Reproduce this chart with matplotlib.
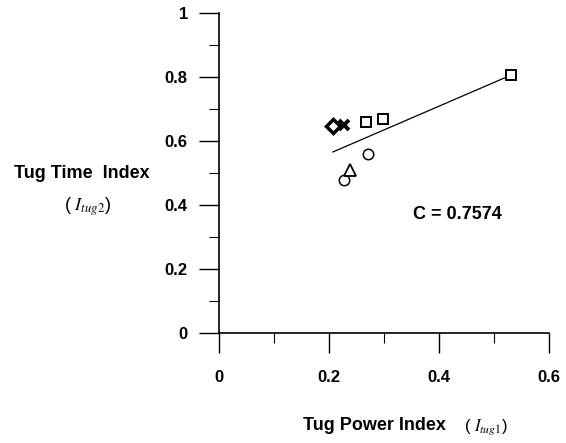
import numpy as np
import matplotlib
matplotlib.use("Agg")
import matplotlib.pyplot as plt
from matplotlib.ticker import MultipleLocator, FuncFormatter

plt.rcParams["font.family"] = ["Liberation Sans", "DejaVu Sans"]
plt.rcParams["mathtext.fontset"] = "stix"

# Pontos (indice de potencia x indice de tempo)
sq_x = [0.268, 0.299, 0.530]
sq_y = [0.660, 0.668, 0.806]
circ_x = [0.270, 0.227]
circ_y = [0.559, 0.478]
tri_x = [0.238]
tri_y = [0.509]
dia_x = [0.207]
dia_y = [0.647]
cross_x = [0.227]
cross_y = [0.650]
coef_text = "C = 0.7574"

todos_x = np.array(sq_x + circ_x + tri_x + dia_x + cross_x)
todos_y = np.array(sq_y + circ_y + tri_y + dia_y + cross_y)

fig = plt.figure(figsize=(5.66, 4.43), dpi=100)
ax = fig.add_axes([0.387, 0.248, 0.583, 0.723])

# Reta de regressao
a, b = np.polyfit(todos_x, todos_y, 1)
xr = np.array([todos_x.min(), todos_x.max()])
ax.plot(xr, a * xr + b, color="black", lw=0.9, clip_on=False)

ax.plot(sq_x, sq_y, "s", mfc="white", mec="black", ms=7.5, mew=1.4, clip_on=False)
ax.plot(circ_x, circ_y, "o", mfc="white", mec="black", ms=7.5, mew=1.1, clip_on=False)
ax.plot(tri_x, tri_y, "^", mfc="white", mec="black", ms=8, mew=1.3, clip_on=False)
ax.plot(dia_x, dia_y, "D", mfc="white", mec="black", ms=7, mew=2.5, clip_on=False)
ax.plot(cross_x, cross_y, "x", color="black", ms=7, mew=2.8, clip_on=False)

ax.text(0.353, 0.369, coef_text, fontsize=13, fontweight="bold", va="center")

ax.set_xlim(0, 0.6)
ax.set_ylim(0, 1)
ax.xaxis.set_major_locator(MultipleLocator(0.2))
ax.xaxis.set_minor_locator(MultipleLocator(0.1))
ax.yaxis.set_major_locator(MultipleLocator(0.2))
ax.yaxis.set_minor_locator(MultipleLocator(0.1))
ax.xaxis.set_major_formatter(FuncFormatter(lambda v, p: f"{v:g}"))
ax.yaxis.set_major_formatter(FuncFormatter(lambda v, p: f"{v:g}"))

ax.spines["top"].set_visible(False)
ax.spines["right"].set_visible(False)
ax.spines["left"].set_linewidth(1.2)
ax.spines["bottom"].set_linewidth(1.2)
ax.tick_params(which="major", direction="out", length=14.5, width=1.0,
               labelsize=12)
ax.tick_params(which="minor", direction="out", length=7, width=0.8)
ax.tick_params(axis="y", pad=8)
ax.tick_params(axis="x", pad=12)
for lab in ax.get_xticklabels() + ax.get_yticklabels():
    lab.set_fontweight("bold")

# Rotulos dos eixos
fig.text(0.145, 0.609, "Tug Time  Index", fontsize=13, fontweight="bold",
         ha="center", va="center")
fig.text(0.154, 0.533, r"( $I_{tug2}$)", fontsize=13, ha="center", va="center")
fig.text(0.661, 0.040, "Tug Power Index", fontsize=13, fontweight="bold",
         ha="center", va="center")
fig.text(0.859, 0.036, r"( $I_{tug1}$)", fontsize=12, ha="center", va="center")

plt.savefig("out.png", dpi=100)
